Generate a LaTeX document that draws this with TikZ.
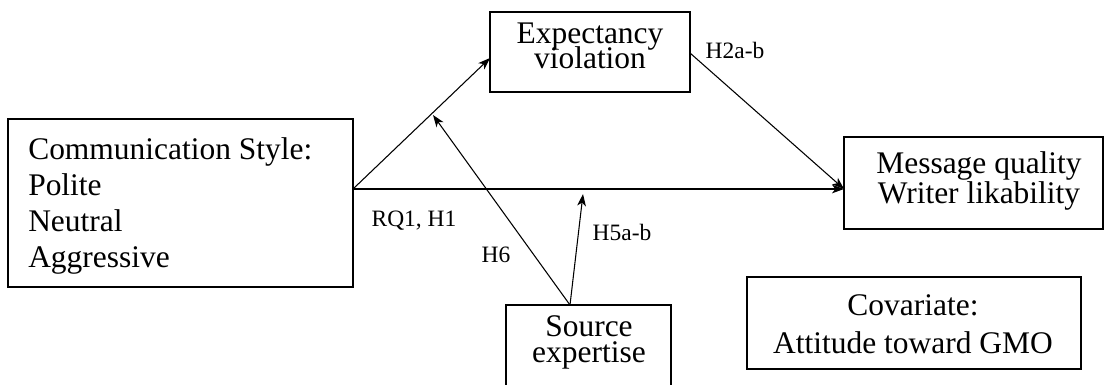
\documentclass[tikz,border=0pt]{standalone}
\usepackage{fontspec}
\setmainfont{Liberation Serif}
\usetikzlibrary{arrows.meta,fit}
\begin{document}
\begin{tikzpicture}[x=0.75pt,y=-0.75pt,
  box/.style={draw, line width=1.3pt, inner sep=0pt, outer sep=0pt},
  conn/.style={line width=0.8pt},
  arr/.style={conn, -{Stealth[length=9pt,width=6.5pt,inset=2.5pt]}},
  lbl/.style={font=\fontsize{17.6pt}{21pt}\selectfont, inner sep=0pt},
  txt/.style={inner sep=0pt, execute at begin node={\lineskiplimit=-50pt\relax}},
]
\useasboundingbox (0,0) rectangle (1104,385);
\clip (0,0) rectangle (1104,385);
% boxes
\node[box, fit={(8,119) (353,287)}] (comm) {};
\node[box, fit={(490,12) (690,92)}] (exp) {};
\node[box, fit={(844,137) (1103,229)}] (msg) {};
\node[box, fit={(747,277) (1081,369)}] (cov) {};
\node[box, fit={(506,305) (671,400)}] (srcbox) {};
% texts
\node[txt, anchor=base west, align=left,
  font=\fontsize{23.6pt}{27pt}\selectfont] (commT) at (28,267)
  {Communication Style:\\Polite\\Neutral\\Aggressive};
\node[txt, anchor=base, align=center,
  font=\fontsize{23.6pt}{18.75pt}\selectfont] (expT) at (590,69)
  {Expectancy\\violation};
\node[txt, anchor=base, align=center,
  font=\fontsize{23.6pt}{22.5pt}\selectfont] (msgT) at (979,203)
  {Message quality\\Writer likability};
\node[txt, anchor=base, align=center,
  font=\fontsize{23.6pt}{28.5pt}\selectfont] (covT) at (913,353)
  {Covariate:\\Attitude toward GMO};
\node[txt, anchor=base, align=center,
  font=\fontsize{23.6pt}{19.5pt}\selectfont] (srcT) at (589,362)
  {Source\\expertise};
% connection points
\path (comm.east) ++(0,-14) coordinate (cA);
\path (exp.west) ++(0,6) coordinate (eA);
\path (exp.east) ++(0,1) coordinate (eB);
\path (msg.west) ++(0,6) coordinate (mA);
\path (srcbox.north) ++(-18.5,0) coordinate (sA);
\coordinate (h5tip) at (583,194);
\coordinate (h6tip) at (433,115);
% connectors
\draw[arr] (cA) -- (eA);
\draw[arr] (cA) -- (mA);
\draw[arr] (eB) -- (mA);
\draw[arr] (sA) -- (h5tip);
\draw[arr] (sA) -- (h6tip);
% labels
\node[lbl, anchor=base] (lH2) at (735,59) {H2a-b};
\node[lbl, anchor=base] (lRQ) at (414,226) {RQ1, H1};
\node[lbl, anchor=base] (lH6) at (496,262) {H6};
\node[lbl, anchor=base] (lH5) at (622,240) {H5a-b};
\end{tikzpicture}
\end{document}
